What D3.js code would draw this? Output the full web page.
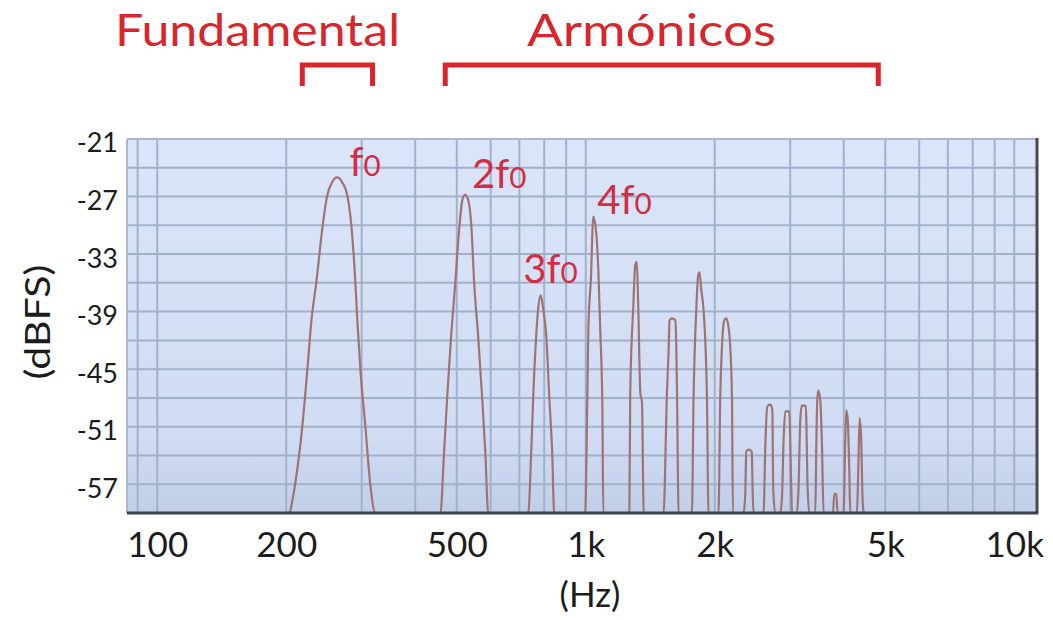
<!DOCTYPE html>
<html><head><meta charset="utf-8">
<script src="https://cdn.jsdelivr.net/npm/d3@7"></script>
<style>body{margin:0;background:#fff} svg{display:block}</style>
</head><body><svg id="c" width="1053" height="620"></svg>
<script>
// ---- data ----
const yTicks = [-21, -27, -33, -39, -45, -51, -57];
const yGrid = [-21, -24, -27, -30, -33, -36, -39, -42, -45, -48, -51, -54, -57];
const xTicks = [100, 200, 500, 1000, 2000, 5000, 10000];
const xTickLabels = ["100", "200", "500", "1k", "2k", "5k", "10k"];
const xGrid = [90, 100, 200, 300, 400, 500, 600, 700, 800, 900, 1000, 2000, 3000, 4000, 5000, 6000, 7000, 8000, 9000, 10000];

const traceHz = [
  204,210,218,224,229,235,243,249,256,263,270,278,284,290,293,298,306,314,323,
  458,467,475,485,496,507,515,523,532,541,549,561,573,583,592,
  734,746,754,766,774,785,796,809,822,835,844,
  997,1008,1014,1030,1036,1041,1058,1070,1081,1093,1099,
  1264,1270,1291,1305,1316,1326,1341,1353,1362,1365,
  1519,1547,1561,1569,1590,1618,1627,1633,1647,
  1769,1785,1811,1830,1843,1860,1883,1918,1934,
  2041,2060,2079,2105,2127,2150,2174,2194,2205,
  2335,2356,2369,2401,2440,2453,2464,
  2600,2624,2638,2652,2695,2725,2739,2769,
  2844,2871,2895,2922,2985,3013,3029,
  3111,3138,3167,3193,3262,3294,3324,
  3433,3451,3470,3489,3526,3559,3589,
  3775,3802,3843,3870,
  3997,4033,4055,4088,4121,4143,
  4295,4325,4356,4395,4419,4450
];
const traceDb = [
  -60,-56.9,-51.0,-45.1,-39.9,-36.0,-30.2,-27.0,-25.5,-25.0,-25.5,-27.0,-30.2,-36.0,-39.9,-45.1,-51.0,-56.9,-60,
  -60,-53.7,-47.9,-41.6,-36.0,-30.2,-27.4,-26.8,-27.4,-30.2,-36.0,-41.6,-47.9,-53.7,-60,
  -60,-53.7,-47.9,-41.6,-38.8,-37.3,-38.8,-41.6,-47.9,-53.7,-60,
  -60,-48.5,-40.9,-34.7,-30.8,-29.1,-30.8,-34.7,-40.9,-48.5,-60,
  -60,-47.5,-38.5,-34.1,-33.8,-38.5,-47.5,-48.5,-57.9,-60,
  -60,-47.5,-43.0,-39.9,-39.7,-39.9,-43.0,-47.5,-60,
  -60,-47.9,-38.8,-35.2,-34.9,-36.7,-38.8,-47.9,-60,
  -60,-47.9,-42.7,-39.9,-39.7,-40.4,-42.7,-47.9,-60,
  -60,-58.1,-53.6,-53.4,-53.6,-58.1,-60,
  -60,-53.1,-50.3,-48.9,-48.7,-49.2,-57.6,-60,
  -60,-58.3,-52.4,-49.4,-49.4,-56.2,-60,
  -60,-57.3,-50.3,-48.8,-48.8,-57.3,-60,
  -60,-53.1,-48.2,-47.2,-48.2,-53.1,-60,
  -60,-58.0,-58.0,-60,
  -60,-52.4,-49.3,-50.3,-55.5,-60,
  -60,-55.5,-50.1,-52.4,-57.6,-60
];

const annoPrefix = ["f", "2f", "3f", "4f"];
const annoSub = ["0", "0", "0", "0"];
const annoHz = [281, 543, 715, 1064];
const annoDb = [-24.9, -26.1, -36.0, -28.8];

const groupNames = ["Fundamental", "Armónicos"];
const groupFromHz = [218, 470];
const groupToHz = [318, 4815];

const xTitle = "(Hz)";
const yTitle = "(dBFS)";

// ---- drawing ----
const svg = d3.select("#c");
const L = 127, R = 1037, T = 139, B = 513;
const x = d3.scaleLog().domain([85, 11300]).range([L, R]);
const y = d3.scaleLinear().domain([-60, -21]).range([B, T]);

const defs = svg.append("defs");
const grad = defs.append("linearGradient").attr("id", "bg").attr("x1", 0).attr("y1", 0).attr("x2", 0).attr("y2", 1);
grad.append("stop").attr("offset", "0%").attr("stop-color", "#dae5f9");
grad.append("stop").attr("offset", "80%").attr("stop-color", "#d0dcf3");
grad.append("stop").attr("offset", "100%").attr("stop-color", "#c1cee9");
defs.append("clipPath").attr("id", "plot").append("rect")
  .attr("x", L).attr("y", T).attr("width", R - L).attr("height", B - T);

svg.append("rect").attr("x", L).attr("y", T).attr("width", R - L).attr("height", B - T)
  .attr("fill", "url(#bg)");

const grid = svg.append("g").attr("stroke", "#a2b1ca").attr("stroke-width", 2);
grid.selectAll("line.h").data(yGrid).join("line").attr("class", "h")
  .attr("x1", L).attr("x2", R).attr("y1", d => y(d)).attr("y2", d => y(d));
grid.selectAll("line.v").data(xGrid).join("line").attr("class", "v")
  .attr("y1", T).attr("y2", B).attr("x1", d => x(d)).attr("x2", d => x(d));

const pts = traceHz.map((f, i) => [f, traceDb[i]]);
svg.append("path").datum(pts)
  .attr("clip-path", "url(#plot)")
  .attr("fill", "none").attr("stroke", "#9f7373").attr("stroke-width", 2.2)
  .attr("stroke-linejoin", "round")
  .attr("d", d3.line().curve(d3.curveMonotoneX).x(d => x(d[0])).y(d => y(d[1])));

// frame
svg.append("line").attr("x1", L).attr("x2", R).attr("y1", T).attr("y2", T).attr("stroke", "#aab7cc").attr("stroke-width", 2);
svg.append("line").attr("x1", L).attr("x2", L).attr("y1", T).attr("y2", B).attr("stroke", "#aab7cc").attr("stroke-width", 2);
svg.append("line").attr("x1", R).attr("x2", R).attr("y1", T - 1).attr("y2", B + 1).attr("stroke", "#454a51").attr("stroke-width", 3);
svg.append("line").attr("x1", L).attr("x2", R + 1).attr("y1", B).attr("y2", B).attr("stroke", "#3d4248").attr("stroke-width", 3);

// axes (labels only)
const xa = svg.append("g").attr("transform", `translate(0,${B})`)
  .call(d3.axisBottom(x).tickValues(xTicks).tickFormat((d, i) => xTickLabels[i]).tickSize(0).tickPadding(0));
xa.select(".domain").remove();
xa.selectAll("text").attr("font-family", "Lato, sans-serif").attr("font-size", 35)
  .attr("fill", "#1c1c1c").attr("dy", 0).attr("y", 44);

const ya = svg.append("g").attr("transform", `translate(${L},0)`)
  .call(d3.axisLeft(y).tickValues(yTicks).tickFormat(d => String(d)).tickSize(0).tickPadding(9));
ya.select(".domain").remove();
ya.selectAll("text").attr("font-family", "Lato, sans-serif").attr("font-size", 27)
  .attr("fill", "#1c1c1c").attr("dy", "0.48em");

svg.append("text").attr("x", 590).attr("y", 607).attr("text-anchor", "middle")
  .attr("font-family", "Lato, sans-serif").attr("font-size", 35).attr("fill", "#1c1c1c").text(xTitle);
svg.append("text").attr("transform", "translate(50,322) rotate(-90)").attr("text-anchor", "middle")
  .attr("font-family", "Lato, sans-serif").attr("font-size", 35).attr("fill", "#1c1c1c")
  .attr("textLength", 115).attr("lengthAdjust", "spacingAndGlyphs").text(yTitle);

// harmonic annotations
annoPrefix.forEach((p, i) => {
  const t = svg.append("text").attr("x", x(annoHz[i])).attr("y", y(annoDb[i]))
    .attr("font-family", "Lato, sans-serif").attr("font-size", 40)
    .attr("fill", "#d42c44");
  t.append("tspan").text(p);
  t.append("tspan").attr("font-size", "0.74em").text(annoSub[i]);
});

// group labels and brackets
const red = "#d8262d";
const textX = [115, 527];
const textW = [285, 249];
groupNames.forEach((g, i) => {
  svg.append("text").attr("x", textX[i]).attr("y", 46)
    .attr("font-family", "Lato, sans-serif").attr("font-size", 44).attr("fill", red)
    .attr("textLength", textW[i]).attr("lengthAdjust", "spacingAndGlyphs").text(g);
  const x0 = x(groupFromHz[i]), x1 = x(groupToHz[i]);
  svg.append("path")
    .attr("d", `M${x0},86 L${x0},65 L${x1},65 L${x1},86`)
    .attr("fill", "none").attr("stroke", red).attr("stroke-width", 5);
});
</script>
</body></html>
